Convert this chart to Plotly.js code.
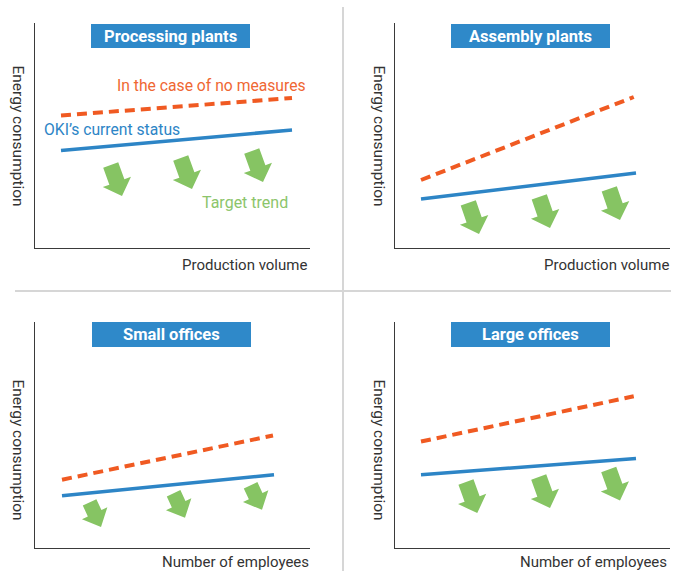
<!DOCTYPE html>
<html>
<head>
<meta charset="utf-8">
<script src="https://cdn.plot.ly/plotly-3.0.1.min.js"></script>
<style>html,body{margin:0;padding:0;background:#fff;}#chart{width:680px;height:571px;}</style>
</head>
<body>
<div id="chart"></div>
<script>
// ---------- data ----------
const panelTitles = ['Processing plants', 'Assembly plants', 'Small offices', 'Large offices'];
const xAxisLabels = ['Production volume', 'Production volume', 'Number of employees', 'Number of employees'];
const yAxisLabel = 'Energy consumption';
const seriesNames = ['In the case of no measures', "OKI\u2019s current status", 'Target trend'];

// conceptual units (x: 0-11, y: 0-9)
const noMeasuresX = [[1.04, 10.28], [1.04, 9.55], [1.08, 9.52], [1.04, 9.55]];
const noMeasuresY = [[5.30, 6.00], [2.72, 6.04], [2.72, 4.48], [4.24, 6.04]];
const currentX    = [[1.04, 10.28], [1.04, 9.64], [1.08, 9.56], [1.04, 9.64]];
const currentY    = [[3.90, 4.72], [1.96, 3.00], [2.08, 2.92], [2.92, 3.56]];
const targetTipX  = [[3.48, 6.28, 9.12], [3.36, 6.20, 9.00], [2.64, 6.00, 9.08], [3.29, 6.20, 9.00]];
const targetTipY  = [[2.08, 2.36, 2.64], [0.56, 0.80, 1.12], [0.84, 1.20, 1.52], [1.39, 1.59, 1.89]];

// ---------- styles / layout ----------
const W = 680, H = 571;
const FONT = 'Roboto, "Liberation Sans", sans-serif';
const C_ORANGE = '#f05a22', C_BLUE = '#2d85c6', C_GREEN = '#86c463', C_BOX = '#2f89c9';
const pxX = v => v / W;
const pxY = v => 1 - v / H;

// panel frames in pixels: [left, right, top, bottom]
const frames = [[35, 310, 23, 248], [395, 670, 23, 248], [35, 310, 322, 548], [395, 670, 322, 548]];
const boxes = [[91, 250, 24, 48], [451, 610, 24, 48], [92, 251, 322, 347], [451, 610, 322, 347]];
const yLabelPos = [[18, 135.5], [379, 135.5], [18, 449.5], [379, 449.5]];
const xLabelPos = [[309, 265], [671, 265], [311, 562], [669, 562]];
// arrow geometry (units): length, head length, shaft width, head width, tilt deg
const arrowGeom = [[1.32, 0.6, 0.64, 1.2, 20], [1.32, 0.6, 0.64, 1.2, 19], [1.08, 0.6, 0.6, 1.12, 25], [1.32, 0.6, 0.64, 1.2, 20]];

function arrowPoly(tx, ty, g) {
  const [L, h, w, Hh, deg] = g;
  const t = deg * Math.PI / 180;
  const d = [Math.sin(t), -Math.cos(t)];
  const n = [Math.cos(t), Math.sin(t)];
  const local = [[-w/2, -L], [-w/2, -h], [-Hh/2, -h], [0, 0], [Hh/2, -h], [w/2, -h], [w/2, -L], [-w/2, -L]];
  const xs = [], ys = [];
  local.forEach(([u, v]) => { xs.push(tx + v*d[0] + u*n[0]); ys.push(ty + v*d[1] + u*n[1]); });
  return [xs, ys];
}

const traces = [];
const layout = {
  width: W, height: H,
  margin: {l: 0, r: 0, t: 0, b: 0},
  paper_bgcolor: '#fff', plot_bgcolor: 'rgba(0,0,0,0)',
  showlegend: false, hovermode: false,
  font: {family: FONT},
  shapes: [], annotations: []
};

for (let i = 0; i < 4; i++) {
  const s = i === 0 ? '' : String(i + 1);
  const [l, r, t, b] = frames[i];
  const axBase = {showline: true, linecolor: '#3a3a3a', linewidth: 1, showgrid: false, zeroline: false,
                  showticklabels: false, ticks: '', fixedrange: true};
  layout['xaxis' + s] = Object.assign({}, axBase, {domain: [pxX(l), pxX(r)], range: [0, 11], anchor: 'y' + s});
  layout['yaxis' + s] = Object.assign({}, axBase, {domain: [pxY(b), pxY(t)], range: [0, 9], anchor: 'x' + s});

  // target trend arrows
  const ax = [], ay = [];
  for (let k = 0; k < targetTipX[i].length; k++) {
    const [xs, ys] = arrowPoly(targetTipX[i][k], targetTipY[i][k], arrowGeom[i]);
    ax.push(...xs, null); ay.push(...ys, null);
  }
  traces.push({x: ax, y: ay, xaxis: 'x' + s, yaxis: 'y' + s, type: 'scatter', mode: 'lines',
               fill: 'toself', fillcolor: C_GREEN, line: {width: 0, color: C_GREEN}, name: seriesNames[2]});
  // no measures (dashed)
  traces.push({x: noMeasuresX[i], y: noMeasuresY[i], xaxis: 'x' + s, yaxis: 'y' + s, type: 'scatter', mode: 'lines',
               line: {color: C_ORANGE, width: 4, dash: '10px,6px'}, name: seriesNames[0]});
  // current status
  traces.push({x: currentX[i], y: currentY[i], xaxis: 'x' + s, yaxis: 'y' + s, type: 'scatter', mode: 'lines',
               line: {color: C_BLUE, width: 3.5}, name: seriesNames[1]});

  // title box
  const [bl, br, bt, bb] = boxes[i];
  layout.shapes.push({type: 'rect', xref: 'paper', yref: 'paper', x0: pxX(bl), x1: pxX(br), y0: pxY(bb), y1: pxY(bt),
                      fillcolor: C_BOX, line: {width: 0}, layer: 'above'});
  layout.annotations.push({xref: 'paper', yref: 'paper', x: pxX((bl + br) / 2), y: pxY((bt + bb) / 2),
                           xanchor: 'center', yanchor: 'middle', showarrow: false, text: panelTitles[i],
                           font: {family: FONT, size: 16.5, color: '#fff', weight: 'bold'}});
  // y-axis label
  layout.annotations.push({xref: 'paper', yref: 'paper', x: pxX(yLabelPos[i][0]), y: pxY(yLabelPos[i][1]),
                           xanchor: 'center', yanchor: 'middle', showarrow: false, textangle: 90, text: yAxisLabel,
                           font: {family: FONT, size: 15.5, color: '#333'}});
  // x-axis label
  layout.annotations.push({xref: 'paper', yref: 'paper', x: pxX(xLabelPos[i][0]), y: pxY(xLabelPos[i][1]),
                           xanchor: 'right', yanchor: 'middle', showarrow: false, text: xAxisLabels[i],
                           font: {family: FONT, size: 15, color: '#333'}});
}

// series labels in first panel
layout.annotations.push({xref: 'paper', yref: 'paper', x: pxX(308), y: pxY(85), xanchor: 'right', yanchor: 'middle',
                         showarrow: false, text: seriesNames[0], font: {family: FONT, size: 15.7, color: '#ef6733'}});
layout.annotations.push({xref: 'paper', yref: 'paper', x: pxX(42), y: pxY(130), xanchor: 'left', yanchor: 'middle',
                         showarrow: false, text: seriesNames[1], font: {family: FONT, size: 15.7, color: C_BLUE}});
layout.annotations.push({xref: 'paper', yref: 'paper', x: pxX(200), y: pxY(202), xanchor: 'left', yanchor: 'middle',
                         showarrow: false, text: seriesNames[2], font: {family: FONT, size: 16, color: '#8cc56b'}});

// separators
layout.shapes.push({type: 'line', xref: 'paper', yref: 'paper', x0: pxX(343), x1: pxX(343), y0: 0, y1: pxY(7),
                    line: {color: '#d6d6d6', width: 2}});
layout.shapes.push({type: 'line', xref: 'paper', yref: 'paper', x0: pxX(15), x1: pxX(671), y0: pxY(291), y1: pxY(291),
                    line: {color: '#d6d6d6', width: 2}});

Plotly.newPlot('chart', traces, layout, {staticPlot: true, displayModeBar: false});
</script>
</body>
</html>
